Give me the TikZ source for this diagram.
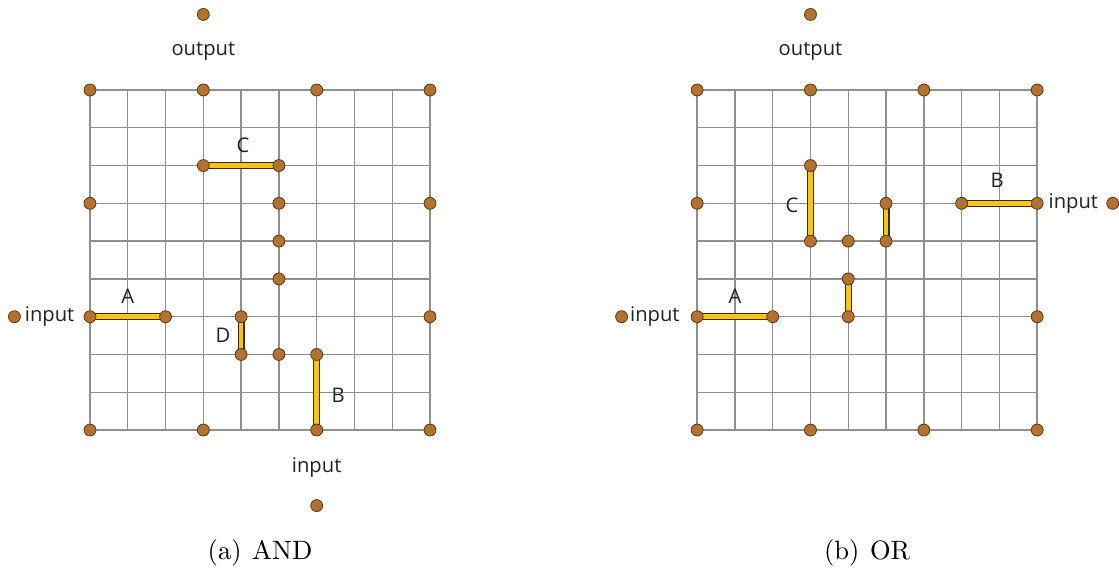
\documentclass[tikz,border=0pt]{standalone}
\usepackage{fontspec}
\newfontfamily\labelfont{Open Sans}
\usetikzlibrary{positioning}
\definecolor{pinfill}{HTML}{B3722F}
\definecolor{pinrim}{HTML}{5A3915}
\definecolor{wirefill}{HTML}{F5C518}
\definecolor{wirerim}{HTML}{3A2C10}
\definecolor{mesh}{HTML}{8F8F8F}
\definecolor{ink}{HTML}{222222}
\pgfdeclarelayer{back}
\pgfsetlayers{back,main}

\begin{document}
\begin{tikzpicture}[x=0.5cm,y=0.5cm,
  pin/.style={circle,draw=pinrim,fill=pinfill,line width=0.3pt,minimum size=4.5pt,inner sep=0pt},
  tag/.style={font=\labelfont\fontsize{7.6}{9}\selectfont,text=ink,inner sep=1pt},
  wire/.style={draw=wirerim,double=wirefill,double distance=1.7pt,line width=0.45pt},
  meshline/.style={draw=mesh,line width=0.5pt}]
  \useasboundingbox (-2.382,-3.706) rectangle (27.236,11.382);

  % (a) AND gadget
  \begin{scope}
    \begin{pgfonlayer}{back}
      \draw[meshline] (0,0) grid[step=0.5cm] (9,9);
    \end{pgfonlayer}
    \foreach \i/\j in {0/0,3/0,6/0,9/0,0/3,9/3,0/6,9/6,0/9,3/9,6/9,9/9}
      \node[pin] (and\i\j) at (\i,\j) {};
    \node[pin] (andout) at (3,11) {};
    \node[pin] (andinl) at (-2,3) {};
    \node[pin] (andinb) at (6,-2) {};
    \node[pin] (and23) at (2,3) {};
    \node[pin] (and37) at (3,7) {};
    \node[pin] (and57) at (5,7) {};
    \node[pin] (and56) at (5,6) {};
    \node[pin] (and55) at (5,5) {};
    \node[pin] (and54) at (5,4) {};
    \node[pin] (and43) at (4,3) {};
    \node[pin] (and42) at (4,2) {};
    \node[pin] (and52) at (5,2) {};
    \node[pin] (and62) at (6,2) {};
    \begin{pgfonlayer}{back}
      \draw[wire] (and03.center) -- (and23.center);
      \draw[wire] (and37.center) -- (and57.center);
      \draw[wire] (and43.center) -- (and42.center);
      \draw[wire] (and62.center) -- (and60.center);
    \end{pgfonlayer}
    \node[tag] (andouttxt) at (3,10.02) {output};
    \node[tag,anchor=east] (andinltxt) at (-0.33,3) {input};
    \node[tag] (andinbtxt) at (6,-0.98) {input};
    \node[tag] (andA) at (1,3.55) {A};
    \node[tag] (andC) at (4.05,7.54) {C};
    \node[tag] (andD) at (3.52,2.51) {D};
    \node[tag] (andB) at (6.57,0.93) {B};
    \node (andcap) at (4.5,-3.26) {(a)\hspace{0.4em}AND};
  \end{scope}

  % (b) OR gadget
  \begin{scope}[xshift=8.035cm]
    \begin{pgfonlayer}{back}
      \draw[meshline] (0,0) grid[step=0.5cm] (9,9);
    \end{pgfonlayer}
    \foreach \i/\j in {0/0,3/0,6/0,9/0,0/3,9/3,0/6,9/6,0/9,3/9,6/9,9/9}
      \node[pin] (or\i\j) at (\i,\j) {};
    \node[pin] (orout) at (3,11) {};
    \node[pin] (orinl) at (-2,3) {};
    \node[pin] (orinr) at (11,6) {};
    \node[pin] (or23) at (2,3) {};
    \node[pin] (or76) at (7,6) {};
    \node[pin] (or37) at (3,7) {};
    \node[pin] (or35) at (3,5) {};
    \node[pin] (or45) at (4,5) {};
    \node[pin] (or56) at (5,6) {};
    \node[pin] (or55) at (5,5) {};
    \node[pin] (or44) at (4,4) {};
    \node[pin] (or43) at (4,3) {};
    \begin{pgfonlayer}{back}
      \draw[wire] (or03.center) -- (or23.center);
      \draw[wire] (or76.center) -- (or96.center);
      \draw[wire] (or37.center) -- (or35.center);
      \draw[wire] (or56.center) -- (or55.center);
      \draw[wire] (or44.center) -- (or43.center);
    \end{pgfonlayer}
    \node[tag] (orouttxt) at (3,10.02) {output};
    \node[tag,anchor=east] (orinltxt) at (-0.38,3) {input};
    \node[tag,anchor=west] (orinrtxt) at (9.22,6) {input};
    \node[tag] (orA) at (1,3.55) {A};
    \node[tag] (orB) at (7.94,6.62) {B};
    \node[tag] (orC) at (2.51,5.96) {C};
    \node (orcap) at (4.5,-3.26) {(b)\hspace{0.4em}OR};
  \end{scope}
\end{tikzpicture}
\end{document}
